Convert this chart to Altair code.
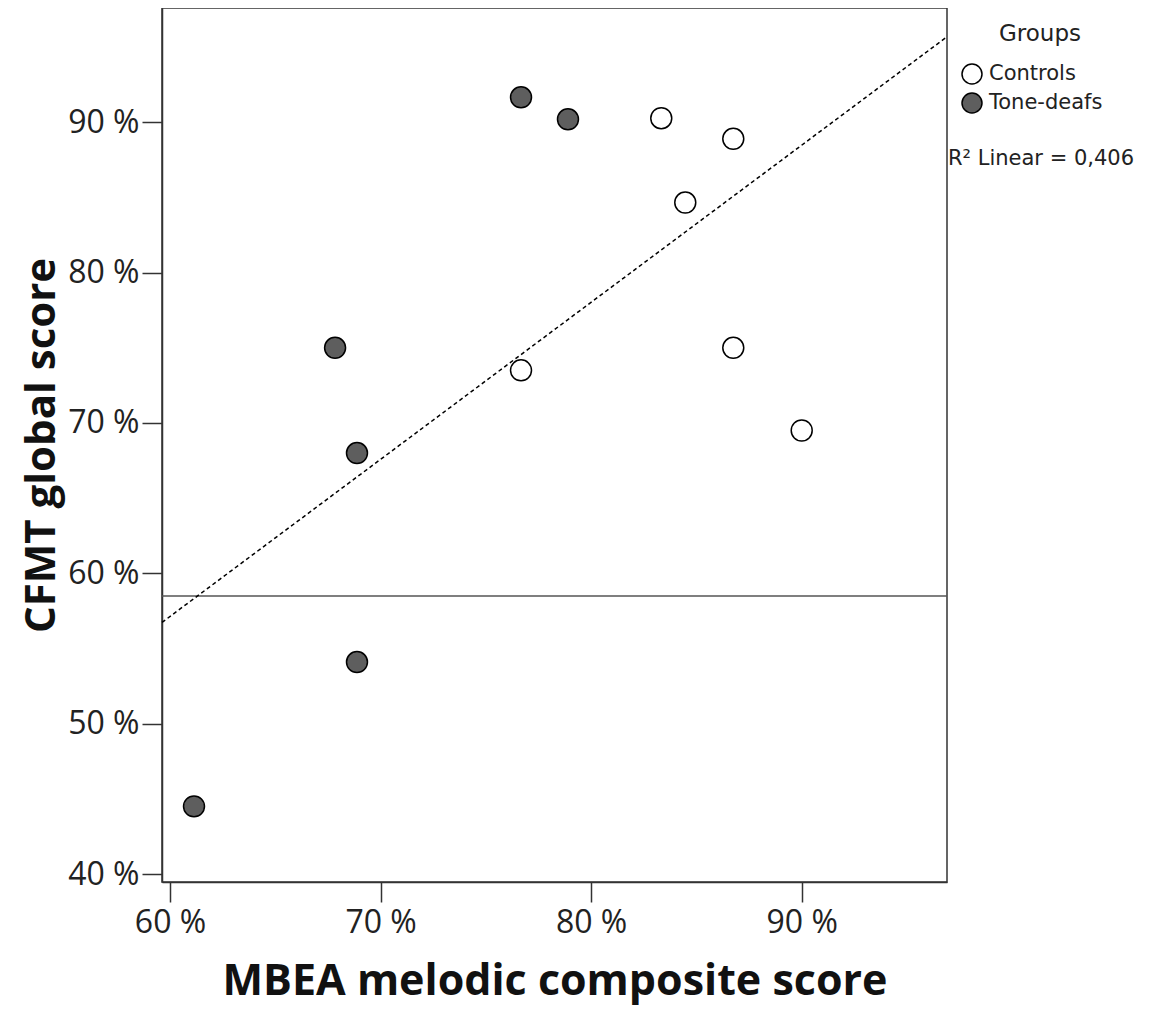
import altair as alt
import pandas as pd

# Data
groups = ["Tone-deafs"] * 6 + ["Controls"] * 6
mbea = [76.67, 78.9, 67.84, 68.88, 68.88, 61.14, 83.33, 86.75, 84.47, 76.67, 86.75, 90.0]
cfmt = [91.66, 90.2, 75.0, 68.0, 54.1, 44.5, 90.27, 88.9, 84.66, 73.5, 75.0, 69.5]
cutoff = [58.5]
legend_title = ["Groups"]
r2_label = ["R\u00b2 Linear = 0,406"]
x_ticks = [60, 70, 80, 90]
y_ticks = [40, 50, 60, 70, 80, 90]

df = pd.DataFrame({"MBEA": mbea, "CFMT": cfmt, "Group": groups})

XDOM = [59.62, 96.9]
YDOM = [39.47, 97.6]
FONT = "Open Sans"

xenc = alt.X("MBEA:Q", scale=alt.Scale(domain=XDOM, nice=False, zero=False),
             axis=alt.Axis(values=x_ticks, labelExpr="datum.value + ' %'",
                           title="MBEA melodic composite score", grid=False,
                           tickSize=20, labelPadding=5, titlePadding=22))
yenc = alt.Y("CFMT:Q", scale=alt.Scale(domain=YDOM, nice=False, zero=False),
             axis=alt.Axis(values=y_ticks, labelExpr="datum.value + ' %'",
                           title="CFMT global score", grid=False, titleFontSize=42,
                           tickSize=20, labelPadding=3, titlePadding=4))

base = alt.Chart(df)

points = base.mark_point(filled=True, shape="circle", size=440, stroke="black",
                         strokeWidth=1.5, opacity=1).encode(
    x=xenc, y=yenc,
    fill=alt.Fill("Group:N",
                  scale=alt.Scale(domain=["Controls", "Tone-deafs"], range=["white", "#5e5e5e"]),
                  legend=alt.Legend(title=None, orient="none", legendX=799, legendY=55,
                                    symbolType="circle", symbolSize=400,
                                    symbolStrokeColor="black", symbolStrokeWidth=1.5,
                                    symbolFillColor="white",
                                    labelFont="DejaVu Sans", labelFontSize=21,
                                    labelColor="#222", labelOffset=6, rowPadding=3)),
)

reg = base.transform_regression("MBEA", "CFMT", extent=XDOM).mark_line(
    color="black", strokeDash=[4, 3], strokeWidth=1.5).encode(x="MBEA:Q", y="CFMT:Q")

rule = alt.Chart(pd.DataFrame({"c": cutoff})).mark_rule(color="#555", strokeWidth=1.5).encode(
    y=alt.Y("c:Q"))

gtitle = alt.Chart(pd.DataFrame({"t": legend_title})).mark_text(
    font="DejaVu Sans", fontSize=23, color="#222", align="center", baseline="middle").encode(
    text="t:N", x=alt.value(878), y=alt.value(26))

r2 = alt.Chart(pd.DataFrame({"t": r2_label})).mark_text(
    font="DejaVu Sans", fontSize=21, color="#222", align="left", baseline="middle").encode(
    text="t:N", x=alt.value(786), y=alt.value(151))

chart = alt.layer(rule, reg, points, gtitle, r2).properties(
    width=785, height=874,
    autosize=alt.AutoSizeParams(type="none"),
    padding={"left": 154, "top": 0, "right": 192, "bottom": 124},
).configure_view(stroke="#333", strokeWidth=1.5).configure_axis(
    labelFont=FONT, labelFontSize=32, labelColor="#222",
    titleFont=FONT, titleFontSize=43, titleFontWeight="bold", titleColor="#111",
    domainColor="#333", domainWidth=1.5, tickColor="#333", tickWidth=1.5,
)

chart.save("out.html", embed_options={"renderer": "svg", "actions": False})
